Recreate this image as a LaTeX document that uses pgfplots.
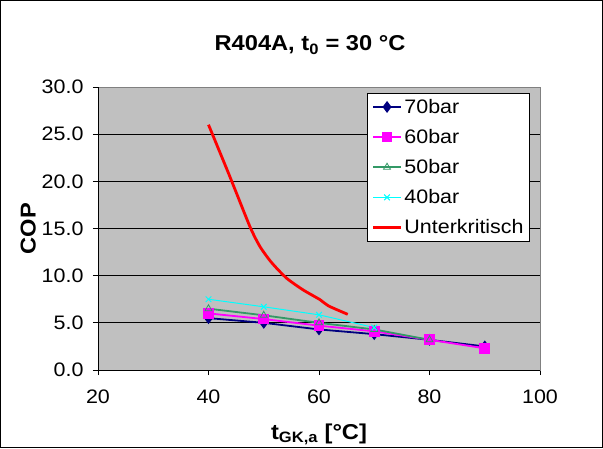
\documentclass[border=0pt]{standalone}
\usepackage{fontspec}
\setmainfont{Liberation Sans}[FakeStretch=1.1]
\usepackage{pgfplots}
\pgfplotsset{compat=1.18}
\definecolor{navyc}{RGB}{0,0,128}
\definecolor{magc}{RGB}{255,0,255}
\definecolor{greenc}{RGB}{51,153,102}
\definecolor{cyanc}{RGB}{0,255,255}
\definecolor{bgc}{RGB}{192,192,192}
\definecolor{framec}{RGB}{128,128,128}
\begin{document}
\begin{tikzpicture}
\begin{axis}[name=ax, scale only axis, width=442pt, height=283pt,
  xmin=20, xmax=100, ymin=0, ymax=30,
  xtick={20,40,...,100}, ytick={0,5,...,30},
  axis background/.style={fill=bgc},
  axis line style={draw=framec, line width=0.8pt},
  ymajorgrids, major grid style={black, line width=0.8pt},
  tick align=outside, major tick length=5pt,
  tick style={black, line width=0.8pt},
  xtick pos=bottom, ytick pos=left,
  /pgf/number format/assume math mode=true,
  ticklabel style={font=\fontsize{19.5}{19.5}\selectfont},
  yticklabel style={/pgf/number format/.cd, fixed, fixed zerofill, precision=1, /tikz/.cd, xshift=-6pt},
  xticklabel style={yshift=-11pt},
  title={\textbf{R404A, t\textsubscript{0} = 30 °C}},
  title style={font=\fontsize{21.5}{21.5}\selectfont, at={(axis description cs:0.5,1)}, anchor=base, yshift=30pt, xshift=-9pt},
  xlabel={\textbf{t\textsubscript{GK,a} [°C]}},
  xlabel style={font=\fontsize{21.5}{21.5}\selectfont, at={(axis description cs:0.5,0)}, anchor=base, yshift=-69pt},
  ylabel={\textbf{COP}},
  ylabel style={font=\fontsize{21.5}{21.5}\selectfont, at={(axis description cs:-0.158,0.5)}, anchor=center},
  legend style={at={(0.977,0.979)}, anchor=north east, draw=black, fill=white,
    font=\fontsize{19.5}{19.5}\selectfont, row sep=10.5pt, inner sep=4pt},
  legend cell align=left,
  legend image code/.code={\draw[mark repeat=2, mark phase=2] plot coordinates {(0pt,0pt) (14pt,0pt) (28pt,0pt)};},
]
\addplot[navyc, line width=1.8pt, mark=diamond*, mark size=4.5pt, mark options={solid, fill=navyc}]
  coordinates {(40,5.5) (50,5.0) (60,4.3) (70,3.8) (80,3.2) (90,2.5)};
\addlegendentry{70bar}
\addplot[magc, line width=1.8pt, mark=square*, mark size=4.5pt, mark options={solid, fill=magc}]
  coordinates {(40,6.0) (50,5.4) (60,4.7) (70,4.1) (80,3.2) (90,2.3)};
\addlegendentry{60bar}
\addplot[greenc, line width=1.8pt, mark=triangle, mark size=4pt, mark options={solid, line width=0.8pt}]
  coordinates {(40,6.5) (50,5.8) (60,5.0) (70,4.3) (80,3.2)};
\addlegendentry{50bar}
\addplot[cyanc, line width=1pt, mark=x, mark size=4pt, mark options={solid}]
  coordinates {(40,7.5) (50,6.7) (60,5.85) (70,4.5)};
\addlegendentry{40bar}
\addplot[red, line width=2.8pt, smooth, tension=0.4, mark=none]
  coordinates {(40,26.0) (43.8,20.6) (47.5,15.2) (49.3,13.1) (51.4,11.4) (54.1,9.75) (57.1,8.5) (60.2,7.45) (61.7,6.8) (65.2,5.9)};
\addlegendentry{Unterkritisch}
\end{axis}
\draw[black, line width=1pt] (ax.south west) -- (ax.north west);
\draw[black, line width=1pt] (ax.south west) -- (ax.south east);
\draw[black, line width=1pt] ([shift={(-97.5pt,-77.5pt)}]ax.south west) rectangle ([shift={(62.5pt,86.5pt)}]ax.north east);
\end{tikzpicture}
\end{document}
